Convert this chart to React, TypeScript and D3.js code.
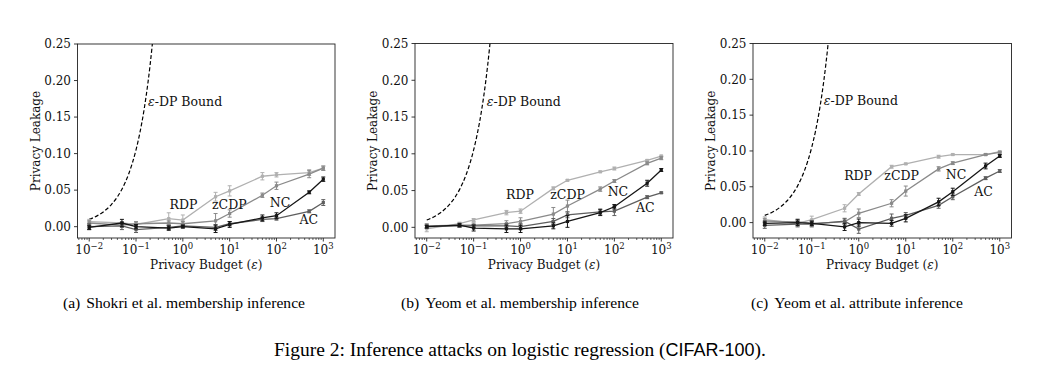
import * as d3 from "d3";

// privacy budgets used on every panel
const epsilons = [0.01, 0.05, 0.1, 0.5, 1, 5, 10, 50, 100, 500, 1000];

// (a) Shokri et al. membership inference
const shokriRDP = [0.007, 0.005, 0.003, 0.011, 0.009, 0.041, 0.049, 0.069, 0.071, 0.074, 0.08];
const shokriRDPErr = [0.003, 0.002, 0.002, 0.008, 0.007, 0.006, 0.007, 0.005, 0.003, 0.004, 0.003];
const shokriZCDP = [0.005, 0.002, 0.004, 0.005, 0.004, 0.008, 0.018, 0.043, 0.056, 0.072, 0.08];
const shokriZCDPErr = [0.003, 0.003, 0.003, 0.003, 0.003, 0.01, 0.005, 0.003, 0.005, 0.005, 0.003];
const shokriNC = [-0.001, 0.005, 0.0, -0.002, 0.0, -0.003, 0.003, 0.012, 0.015, 0.047, 0.065];
const shokriNCErr = [0.003, 0.005, 0.003, 0.003, 0.002, 0.005, 0.004, 0.004, 0.004, 0.002, 0.003];
const shokriAC = [0.0, 0.001, -0.004, -0.001, 0.001, -0.001, 0.004, 0.01, 0.011, 0.021, 0.033];
const shokriACErr = [0.004, 0.005, 0.004, 0.003, 0.002, 0.004, 0.003, 0.003, 0.002, 0.002, 0.004];

// (b) Yeom et al. membership inference
const yeomMemRDP = [-0.002, 0.005, 0.01, 0.02, 0.022, 0.053, 0.064, 0.0755, 0.08, 0.091, 0.097];
const yeomMemRDPErr = [0.004, 0.002, 0.002, 0.003, 0.003, 0.002, 0.001, 0.001, 0.002, 0.001, 0.001];
const yeomMemZCDP = [0.002, 0.003, 0.003, 0.005, 0.008, 0.018, 0.029, 0.052, 0.063, 0.087, 0.094];
const yeomMemZCDPErr = [0.003, 0.003, 0.003, 0.004, 0.005, 0.009, 0.008, 0.003, 0.002, 0.002, 0.002];
const yeomMemNC = [0.001, 0.003, -0.001, -0.002, -0.002, 0.002, 0.008, 0.02, 0.028, 0.06, 0.078];
const yeomMemNCErr = [0.002, 0.002, 0.004, 0.005, 0.005, 0.004, 0.008, 0.004, 0.003, 0.004, 0.002];
const yeomMemAC = [0.001, 0.002, 0.002, 0.002, 0.001, 0.008, 0.017, 0.021, 0.022, 0.041, 0.047];
const yeomMemACErr = [0.002, 0.002, 0.002, 0.003, 0.004, 0.004, 0.004, 0.004, 0.006, 0.002, 0.001];

// (c) Yeom et al. attribute inference
const yeomAttrRDP = [0.004, -0.001, 0.004, 0.02, 0.04, 0.078, 0.082, 0.092, 0.095, 0.095, 0.099];
const yeomAttrRDPErr = [0.004, 0.004, 0.005, 0.005, 0.002, 0.002, 0.001, 0.002, 0.001, 0.001, 0.001];
const yeomAttrZCDP = [0.002, 0.001, -0.001, 0.001, 0.013, 0.027, 0.044, 0.075, 0.083, 0.095, 0.098];
const yeomAttrZCDPErr = [0.004, 0.004, 0.004, 0.004, 0.006, 0.005, 0.007, 0.003, 0.002, 0.001, 0.001];
const yeomAttrNC = [-0.001, 0.0, -0.001, -0.006, 0.0, -0.001, 0.006, 0.029, 0.043, 0.079, 0.093];
const yeomAttrNCErr = [0.003, 0.004, 0.003, 0.005, 0.005, 0.004, 0.005, 0.005, 0.005, 0.004, 0.002];
const yeomAttrAC = [-0.004, -0.002, -0.002, 0.002, -0.009, 0.006, 0.01, 0.024, 0.036, 0.062, 0.072];
const yeomAttrACErr = [0.004, 0.004, 0.004, 0.004, 0.006, 0.006, 0.004, 0.004, 0.004, 0.002, 0.002];

// epsilon-DP bound
const boundEps = [0.01, 0.015, 0.02, 0.03, 0.04, 0.05, 0.07, 0.1, 0.12, 0.15, 0.18, 0.2, 0.22, 0.25];
const boundLeak = [0.01, 0.0151, 0.0202, 0.0305, 0.0408, 0.0513, 0.0725, 0.1052, 0.1275, 0.1618, 0.1972, 0.2214, 0.2461, 0.284];

const yTicks = [0, 0.05, 0.1, 0.15, 0.2, 0.25];
const xTickPowers = [-2, -1, 0, 1, 2, 3];

const COLORS: Record<string, string> = {
  RDP: "#b0b0b0",
  zCDP: "#8a8a8a",
  AC: "#5e5e5e",
  NC: "#161616",
};
const DRAW_ORDER = ["RDP", "zCDP", "AC", "NC"];
const SERIF = "'DejaVu Serif', serif";
const TIMES = "'Liberation Serif', 'Times New Roman', serif";

const panels = [
  {
    id: "a",
    left: 77.5, right: 335, top: 44, bottom: 238, ymin: -0.0155,
    series: {
      RDP: [shokriRDP, shokriRDPErr], zCDP: [shokriZCDP, shokriZCDPErr],
      NC: [shokriNC, shokriNCErr], AC: [shokriAC, shokriACErr],
    },
    labels: { RDP: [0.52, 0.024], zCDP: [4.2, 0.024], NC: [72, 0.027], AC: [310, 0.004] },
    bound: [0.18, 0.165],
    tag: "(a)", caption: "Shokri et al. membership inference", capX: 63,
  },
  {
    id: "b",
    left: 415, right: 673, top: 43.5, bottom: 238, ymin: -0.0145,
    series: {
      RDP: [yeomMemRDP, yeomMemRDPErr], zCDP: [yeomMemZCDP, yeomMemZCDPErr],
      NC: [yeomMemNC, yeomMemNCErr], AC: [yeomMemAC, yeomMemACErr],
    },
    labels: { RDP: [0.49, 0.038], zCDP: [4.3, 0.038], NC: [72, 0.042], AC: [290, 0.021] },
    bound: [0.19, 0.165],
    tag: "(b)", caption: "Yeom et al. membership inference", capX: 401,
  },
  {
    id: "c",
    left: 753, right: 1011.5, top: 43.5, bottom: 238, ymin: -0.0215,
    series: {
      RDP: [yeomAttrRDP, yeomAttrRDPErr], zCDP: [yeomAttrZCDP, yeomAttrZCDPErr],
      NC: [yeomAttrNC, yeomAttrNCErr], AC: [yeomAttrAC, yeomAttrACErr],
    },
    labels: { RDP: [0.49, 0.06], zCDP: [3.5, 0.06], NC: [71, 0.061], AC: [286, 0.037] },
    bound: [0.18, 0.164],
    tag: "(c)", caption: "Yeom et al. attribute inference", capX: 751,
  },
];

function Panel({ p }: { p: (typeof panels)[number] }) {
  const x = d3.scaleLog().domain([10 ** -2.25, 10 ** 3.25]).range([p.left, p.right]);
  const y = d3.scaleLinear().domain([p.ymin, 0.25]).range([p.bottom, p.top]);

  const seriesLine = d3
    .line<number>()
    .x((_, i) => x(epsilons[i]))
    .y((d) => y(d));
  const boundLine = d3
    .line<number>()
    .x((_, i) => x(boundEps[i]))
    .y((d) => y(d))
    .curve(d3.curveMonotoneX);

  const majors = xTickPowers.map((k) => 10 ** k);
  const minors = x
    .ticks()
    .filter((t) => Math.abs(Math.log10(t) - Math.round(Math.log10(t))) > 1e-6);

  const clipId = `clip-${p.id}`;
  const midX = (p.left + p.right) / 2;

  return (
    <g>
      <defs>
        <clipPath id={clipId}>
          <rect x={p.left} y={p.top} width={p.right - p.left} height={p.bottom - p.top} />
        </clipPath>
      </defs>

      {/* dashed bound */}
      <path
        d={boundLine(boundLeak) || ""}
        fill="none"
        stroke="#000"
        strokeWidth={1.2}
        strokeDasharray="4 2.2"
        clipPath={`url(#${clipId})`}
      />

      {DRAW_ORDER.map((name) => {
        const [vals, errs] = (p.series as any)[name] as number[][];
        const c = COLORS[name];
        return (
          <g key={name} stroke={c} fill={c}>
            <path d={seriesLine(vals) || ""} fill="none" strokeWidth={1.3} />
            {vals.map((v, i) => {
              const cx = x(epsilons[i]);
              const y0 = y(v - errs[i]);
              const y1 = y(v + errs[i]);
              return (
                <g key={i}>
                  <line x1={cx} x2={cx} y1={y0} y2={y1} strokeWidth={1} />
                  <line x1={cx - 2} x2={cx + 2} y1={y0} y2={y0} strokeWidth={1} />
                  <line x1={cx - 2} x2={cx + 2} y1={y1} y2={y1} strokeWidth={1} />
                  <rect x={cx - 1.6} y={y(v) - 1.6} width={3.2} height={3.2} stroke="none" />
                </g>
              );
            })}
          </g>
        );
      })}

      {/* series labels */}
      {Object.entries(p.labels).map(([name, [lx, ly]]) => (
        <text key={name} x={x(lx)} y={y(ly)} fontFamily={SERIF} fontSize={12.5} fill="#111">
          {name}
        </text>
      ))}
      <text x={x(p.bound[0])} y={y(p.bound[1])} fontFamily={SERIF} fontSize={12.5} fill="#111">
        <tspan fontStyle="italic">ε</tspan>-DP Bound
      </text>

      {/* frame */}
      <rect
        x={p.left}
        y={p.top}
        width={p.right - p.left}
        height={p.bottom - p.top}
        fill="none"
        stroke="#222"
        strokeWidth={0.9}
      />

      {/* y axis */}
      {yTicks.map((t) => (
        <g key={t}>
          <line x1={p.left - 3.5} x2={p.left} y1={y(t)} y2={y(t)} stroke="#222" strokeWidth={0.9} />
          <text
            x={p.left - 6.5}
            y={y(t)}
            dy="0.36em"
            textAnchor="end"
            fontFamily={SERIF}
            fontSize={12}
            fill="#111"
          >
            {d3.format(".2f")(t)}
          </text>
        </g>
      ))}
      <text
        transform={`translate(${p.left - 38}, ${(p.top + p.bottom) / 2}) rotate(-90)`}
        textAnchor="middle"
        fontFamily={SERIF}
        fontSize={12}
        fill="#111"
      >
        Privacy Leakage
      </text>

      {/* x axis */}
      {minors.map((t) => (
        <line key={t} x1={x(t)} x2={x(t)} y1={p.bottom} y2={p.bottom + 2} stroke="#222" strokeWidth={0.7} />
      ))}
      {majors.map((t, i) => (
        <g key={t}>
          <line x1={x(t)} x2={x(t)} y1={p.bottom} y2={p.bottom + 3.5} stroke="#222" strokeWidth={0.9} />
          <text x={x(t)} y={p.bottom + 16} textAnchor="middle" fontFamily={SERIF} fontSize={12} fill="#111">
            10
            <tspan dy={-5} fontSize={8.5}>
              {xTickPowers[i] < 0 ? `−${-xTickPowers[i]}` : `${xTickPowers[i]}`}
            </tspan>
          </text>
        </g>
      ))}
      <text x={midX} y={p.bottom + 31} textAnchor="middle" fontFamily={SERIF} fontSize={12} fill="#111">
        Privacy Budget (<tspan fontStyle="italic">ε</tspan>)
      </text>

      {/* sub caption */}
      <text x={p.capX} y={307.5} fontFamily={TIMES} fontSize={15.6} fill="#000">
        {p.tag}
        <tspan dx={6}>{p.caption}</tspan>
      </text>
    </g>
  );
}

export default function App() {
  return (
    <svg
      width={1056}
      height={369}
      viewBox="0 0 1056 369"
      style={{ position: "absolute", left: 0, top: 0, background: "#fff" }}
    >
      <rect width={1056} height={369} fill="#fff" />
      {panels.map((p) => (
        <Panel key={p.id} p={p} />
      ))}
      <text x={274} y={356} fontFamily={TIMES} fontSize={19.5} fill="#000">
        Figure 2: Inference attacks on logistic regression (
        <tspan fontFamily="'Liberation Sans', Arial, sans-serif" fontSize={18}>
          CIFAR-100
        </tspan>
        ).
      </text>
    </svg>
  );
}
